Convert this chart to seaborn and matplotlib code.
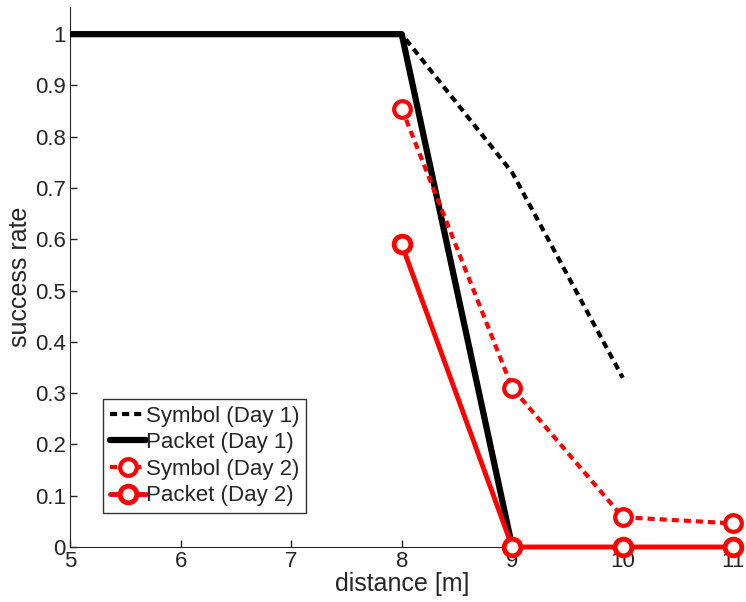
import matplotlib
matplotlib.use("Agg")
import matplotlib.pyplot as plt
import seaborn as sns

# Data
x_day1 = [5, 6, 7, 8, 9, 10]
symbol_day1 = [1.0, 1.0, 1.0, 1.0, 0.73, 0.33]
x_packet_day1 = [5, 6, 7, 8, 9]
packet_day1 = [1.0, 1.0, 1.0, 1.0, 0.0]
x_day2 = [8, 9, 10, 11]
symbol_day2 = [0.855, 0.31, 0.058, 0.046]
packet_day2 = [0.59, 0.0, 0.0, 0.0]
labels = ["Symbol (Day 1)", "Packet (Day 1)", "Symbol (Day 2)", "Packet (Day 2)"]

x_ticks = [5, 6, 7, 8, 9, 10, 11]
y_ticks = [0, 0.1, 0.2, 0.3, 0.4, 0.5, 0.6, 0.7, 0.8, 0.9, 1]
y_ticklabels = ["0", "0.1", "0.2", "0.3", "0.4", "0.5", "0.6", "0.7", "0.8", "0.9", "1"]

sns.set_style("ticks")
plt.rcParams['font.family'] = ['Liberation Sans', 'DejaVu Sans']

fig = plt.figure(figsize=(7.46, 6.02), dpi=100)
ax = fig.add_axes([0.094, 0.0914, 0.889, 0.897])

sns.lineplot(x=x_day1, y=symbol_day1, ax=ax, color="black", lw=3,
             legend=False, zorder=3)
ax.lines[-1].set_dashes((1.7, 1.2))
sns.lineplot(x=x_packet_day1, y=packet_day1, ax=ax, color="black", lw=4.5,
             legend=False, zorder=3)
sns.lineplot(x=x_day2, y=symbol_day2, ax=ax, color="red", lw=3,
             marker="o", markersize=12, markerfacecolor="white",
             markeredgecolor="red", markeredgewidth=3,
             legend=False, zorder=4, clip_on=False)
ax.lines[-1].set_dashes((1.7, 1.2))
sns.lineplot(x=x_day2, y=packet_day2, ax=ax, color="red", lw=3.5,
             marker="o", markersize=12, markerfacecolor="white",
             markeredgecolor="red", markeredgewidth=3.5,
             legend=False, zorder=4, clip_on=False)

ax.set_xlim(5, 11)
ax.set_ylim(0, 1.053)
ax.set_xticks(x_ticks)
ax.set_xticklabels([str(t) for t in x_ticks])
ax.set_yticks(y_ticks)
ax.set_yticklabels(y_ticklabels)
ax.tick_params(direction="in", length=5, width=1, labelsize=16, pad=3)
ax.set_xlabel("distance [m]", fontsize=18, labelpad=0)
ax.set_ylabel("success rate", fontsize=18, labelpad=2)
sns.despine(ax=ax)

leg = ax.legend(handles=list(ax.lines[:4]), labels=labels,
                loc="upper left", bbox_to_anchor=(0.05, 0.274), fontsize=16,
                frameon=True, fancybox=False, edgecolor="black",
                handlelength=1.6, handletextpad=0.0, borderpad=0.3,
                labelspacing=0.25, borderaxespad=0)
leg.get_frame().set_linewidth(1)

fig.savefig("out.png", dpi=100)
